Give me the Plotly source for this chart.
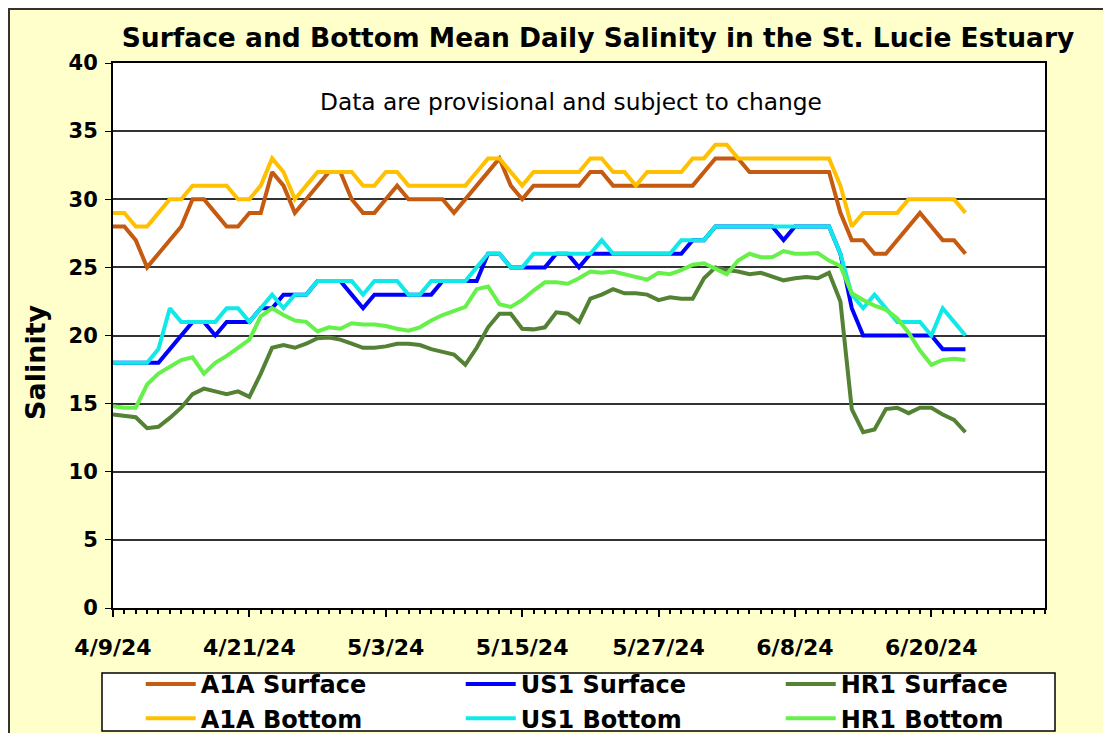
import pandas as pd
import plotly.graph_objects as go

dates = pd.date_range("2024-04-09", periods=76, freq="D")

a1a_surface = [28, 28, 27, 25, 26, 27, 28, 30, 30, 29, 28, 28, 29, 29, 32, 31, 29, 30, 31, 32,
               32, 30, 29, 29, 30, 31, 30, 30, 30, 30, 29, 30, 31, 32, 33, 31, 30, 31, 31, 31,
               31, 31, 32, 32, 31, 31, 31, 31, 31, 31, 31, 31, 32, 33, 33, 33, 32, 32, 32, 32,
               32, 32, 32, 32, 29, 27, 27, 26, 26, 27, 28, 29, 28, 27, 27, 26]
a1a_bottom = [29, 29, 28, 28, 29, 30, 30, 31, 31, 31, 31, 30, 30, 31, 33, 32, 30, 31, 32, 32,
              32, 32, 31, 31, 32, 32, 31, 31, 31, 31, 31, 31, 32, 33, 33, 32, 31, 32, 32, 32,
              32, 32, 33, 33, 32, 32, 31, 32, 32, 32, 32, 33, 33, 34, 34, 33, 33, 33, 33, 33,
              33, 33, 33, 33, 31, 28, 29, 29, 29, 29, 30, 30, 30, 30, 30, 29]
us1_surface = [18, 18, 18, 18, 18, 19, 20, 21, 21, 20, 21, 21, 21, 22, 22, 23, 23, 23, 24, 24,
               24, 23, 22, 23, 23, 23, 23, 23, 23, 24, 24, 24, 24, 26, 26, 25, 25, 25, 25, 26,
               26, 25, 26, 26, 26, 26, 26, 26, 26, 26, 26, 27, 27, 28, 28, 28, 28, 28, 28, 27,
               28, 28, 28, 28, 26, 22, 20, 20, 20, 20, 20, 20, 20, 19, 19, 19]
us1_bottom = [18, 18, 18, 18, 19, 22, 21, 21, 21, 21, 22, 22, 21, 22, 23, 22, 23, 23, 24, 24,
              24, 24, 23, 24, 24, 24, 23, 23, 24, 24, 24, 24, 25, 26, 26, 25, 25, 26, 26, 26,
              26, 26, 26, 27, 26, 26, 26, 26, 26, 26, 27, 27, 27, 28, 28, 28, 28, 28, 28, 28,
              28, 28, 28, 28, 26, 23, 22, 23, 22, 21, 21, 21, 20, 22, 21, 20]
hr1_surface = [14.2, 14.1, 14.0, 13.2, 13.3, 13.95, 14.7, 15.7, 16.1, 15.9, 15.7, 15.9, 15.5, 17.2,
               19.1, 19.3, 19.1, 19.4, 19.8, 19.85, 19.7, 19.4, 19.1, 19.1, 19.2, 19.4, 19.4, 19.3,
               19.0, 18.8, 18.6, 17.85, 19.1, 20.6, 21.6, 21.6, 20.5, 20.45, 20.6, 21.7, 21.6, 21.0,
               22.7, 23.0, 23.4, 23.1, 23.1, 23.0, 22.6, 22.8, 22.7, 22.7, 24.2, 25.0, 24.8, 24.7,
               24.5, 24.6, 24.3, 24.05, 24.2, 24.3, 24.2, 24.6, 22.5, 14.6, 12.9, 13.1, 14.6, 14.7,
               14.3, 14.7, 14.7, 14.2, 13.8, 12.9]
hr1_bottom = [14.8, 14.7, 14.7, 16.4, 17.2, 17.7, 18.2, 18.4, 17.2, 18.0, 18.5, 19.1, 19.7, 21.4,
              22.0, 21.5, 21.1, 21.0, 20.3, 20.6, 20.5, 20.9, 20.8, 20.8, 20.7, 20.5, 20.35, 20.6,
              21.1, 21.5, 21.8, 22.1, 23.4, 23.6, 22.3, 22.1, 22.6, 23.3, 23.9, 23.9, 23.8, 24.2,
              24.7, 24.6, 24.7, 24.5, 24.3, 24.1, 24.6, 24.5, 24.8, 25.2, 25.3, 24.9, 24.5, 25.5,
              26.0, 25.75, 25.75, 26.2, 26.0, 26.0, 26.05, 25.5, 25.1, 23.1, 22.6, 22.2, 21.9, 21.25,
              20.2, 18.9, 17.85, 18.2, 18.3, 18.2]

series_names = ["A1A Surface", "US1 Surface", "HR1 Surface", "A1A Bottom", "US1 Bottom", "HR1 Bottom"]
series_values = [a1a_surface, us1_surface, hr1_surface, a1a_bottom, us1_bottom, hr1_bottom]
series_colors = ["#C55A11", "#0000FF", "#548235", "#FFC000", "#11E8E8", "#66F04A"]

FONT = "DejaVu Sans, sans-serif"

fig = go.Figure()
for name, vals, col in zip(series_names, series_values, series_colors):
    fig.add_trace(go.Scatter(x=dates, y=vals, name=name, mode="lines",
                             line=dict(color=col, width=4)))

# page has an 8px body margin: figure is placed at (8, 8)
OFF = 8
W, H = 1111 - OFF, 733 - OFF
PL, PR, PT, PB = 113, 1045, 63, 608          # plot area in page pixels
L, T = PL - OFF, PT - OFF
pw, ph = PR - PL, PB - PT
R, B = W - L - pw, H - T - ph


def px(x):
    return (x - PL) / pw


def py(y):
    return (PB - y) / ph


fig.update_layout(
    width=W, height=H,
    margin=dict(l=L, r=R, t=T, b=B, autoexpand=False),
    paper_bgcolor="#FFFFCC",
    plot_bgcolor="white",
    font=dict(family=FONT, color="black"),
    title=dict(text="Surface and Bottom Mean Daily Salinity in the St. Lucie Estuary",
               x=(598 - OFF) / W, xanchor="center", xref="container",
               y=1 - (38 - OFF) / H, yanchor="middle", yref="container",
               font=dict(size=26.5, family=FONT, color="black", weight="bold")),
    showlegend=True,
    legend=dict(orientation="h", x=px(102), xanchor="left", y=py(662), yanchor="top",
                bgcolor="rgba(0,0,0,0)", borderwidth=0,
                entrywidth=255, entrywidthmode="pixels", itemwidth=50,
                title=dict(text="&nbsp;" * 5, side="left",
                           font=dict(size=16.5, family=FONT, color="black")),
                font=dict(size=24, family=FONT, color="black", weight="bold"),
                traceorder="normal"),
    xaxis=dict(type="date", range=["2024-04-09", "2024-06-30"],
               tick0="2024-04-09", dtick=12 * 86400000, tickformat="%-m/%-d/%y",
               ticks="outside", ticklen=7, tickwidth=1.5, tickcolor="black",
               minor=dict(dtick=86400000, ticks="outside", ticklen=4, tickcolor="black", showgrid=False),
               showgrid=False, showline=True, linecolor="black", linewidth=2, mirror=True,
               tickfont=dict(size=22, family=FONT, color="black", weight="bold"),
               ticklabelstandoff=12, automargin=False),
    yaxis=dict(range=[0, 40], dtick=5, tick0=0,
               ticks="outside", ticklen=6, tickcolor="black",
               showgrid=True, gridcolor="#333333", gridwidth=1.5,
               showline=True, linecolor="black", linewidth=2, mirror=True,
               tickfont=dict(size=21, family=FONT, color="black", weight="bold"),
               ticklabelstandoff=3, automargin=False),
)

fig.add_annotation(text="Salinity", textangle=-90,
                   x=px(35), y=py(362), xref="paper", yref="paper",
                   xanchor="center", yanchor="middle", showarrow=False,
                   font=dict(size=27, family=FONT, color="black", weight="bold"))

fig.add_annotation(text="Data are provisional and subject to change",
                   x=px(571), y=py(101), xref="paper", yref="paper",
                   xanchor="center", yanchor="middle",
                   showarrow=False, font=dict(size=23.3, family=FONT, color="black"))

# legend box
fig.add_shape(type="rect", xref="paper", yref="paper",
              x0=px(102), x1=px(1055), y0=py(673), y1=py(731),
              line=dict(color="black", width=1.5), fillcolor="white", layer="below")
# outer frame (left and top edges visible)
fig.add_shape(type="rect", xref="paper", yref="paper",
              x0=px(9), x1=px(1125), y0=py(9), y1=py(745),
              line=dict(color="#333333", width=2), fillcolor="rgba(0,0,0,0)")

fig.write_html("out.html")
